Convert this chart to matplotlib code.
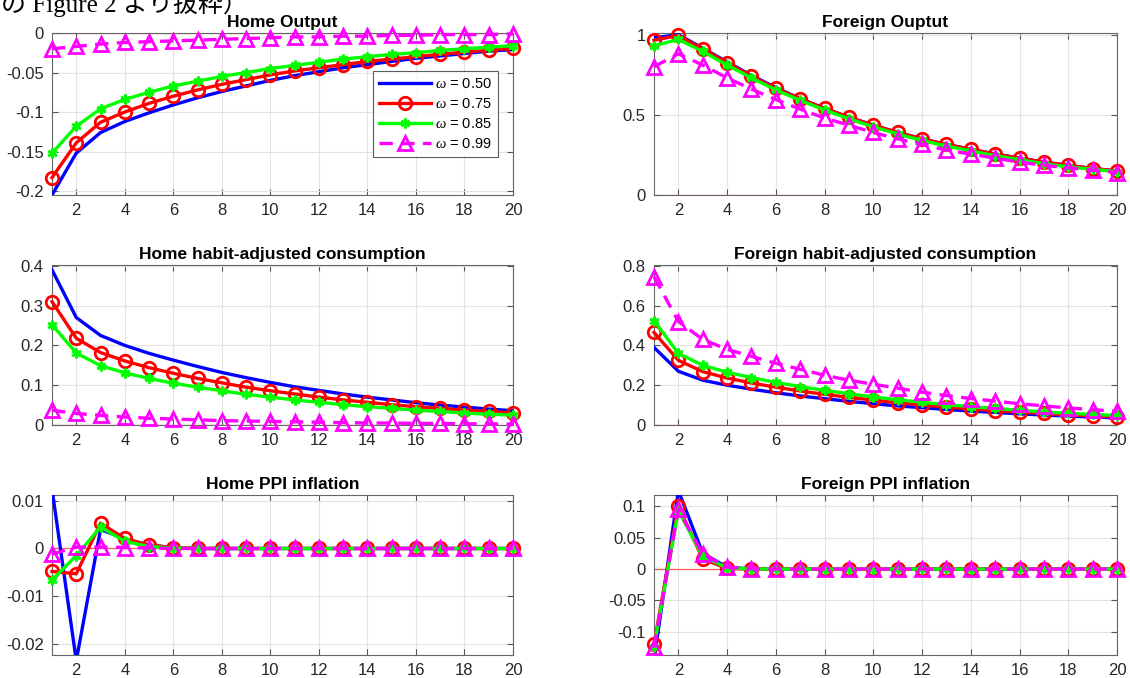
import matplotlib
matplotlib.use("Agg")
import matplotlib.pyplot as plt
import numpy as np

plt.rcParams["font.family"] = ["Liberation Sans", "DejaVu Sans"]
plt.rcParams["mathtext.fontset"] = "custom"
plt.rcParams["mathtext.it"] = "Liberation Serif:italic"

t = list(range(1, 21))
labels = [r"$\omega$ = 0.50", r"$\omega$ = 0.75", r"$\omega$ = 0.85", r"$\omega$ = 0.99"]

home_output = [
    [-0.205, -0.152, -0.126, -0.112, -0.101, -0.091, -0.082, -0.074, -0.067, -0.060,
     -0.054, -0.049, -0.044, -0.040, -0.036, -0.032, -0.029, -0.026, -0.023, -0.021],
    [-0.183, -0.139, -0.113, -0.100, -0.089, -0.080, -0.072, -0.065, -0.059, -0.053,
     -0.048, -0.044, -0.040, -0.036, -0.033, -0.030, -0.027, -0.024, -0.022, -0.019],
    [-0.152, -0.118, -0.096, -0.084, -0.075, -0.067, -0.061, -0.055, -0.050, -0.045,
     -0.041, -0.037, -0.033, -0.030, -0.027, -0.025, -0.022, -0.020, -0.018, -0.016],
    [-0.020, -0.017, -0.014, -0.012, -0.011, -0.010, -0.009, -0.008, -0.007, -0.006,
     -0.005, -0.005, -0.004, -0.004, -0.003, -0.003, -0.002, -0.002, -0.002, -0.001],
]
foreign_output = [
    [0.98, 1.0, 0.915, 0.83, 0.745, 0.67, 0.60, 0.54, 0.485, 0.435,
     0.39, 0.35, 0.315, 0.285, 0.255, 0.23, 0.205, 0.185, 0.165, 0.15],
    [0.965, 0.995, 0.91, 0.825, 0.74, 0.665, 0.60, 0.54, 0.485, 0.435,
     0.39, 0.35, 0.315, 0.285, 0.255, 0.23, 0.205, 0.185, 0.165, 0.15],
    [0.93, 0.97, 0.895, 0.81, 0.73, 0.655, 0.59, 0.53, 0.475, 0.425,
     0.38, 0.34, 0.305, 0.275, 0.245, 0.22, 0.195, 0.175, 0.16, 0.145],
    [0.80, 0.88, 0.81, 0.73, 0.66, 0.595, 0.535, 0.48, 0.435, 0.39,
     0.35, 0.315, 0.28, 0.255, 0.23, 0.205, 0.185, 0.17, 0.155, 0.14],
]
home_cons = [
    [0.39, 0.27, 0.225, 0.20, 0.18, 0.163, 0.147, 0.132, 0.119, 0.107,
     0.096, 0.087, 0.078, 0.070, 0.063, 0.056, 0.050, 0.045, 0.040, 0.036],
    [0.31, 0.218, 0.182, 0.161, 0.144, 0.130, 0.117, 0.106, 0.095, 0.086,
     0.078, 0.070, 0.063, 0.057, 0.051, 0.046, 0.042, 0.037, 0.034, 0.030],
    [0.252, 0.181, 0.149, 0.131, 0.117, 0.105, 0.095, 0.086, 0.077, 0.070,
     0.063, 0.057, 0.051, 0.046, 0.042, 0.037, 0.034, 0.030, 0.027, 0.025],
    [0.037, 0.029, 0.024, 0.020, 0.017, 0.015, 0.013, 0.011, 0.010, 0.009,
     0.008, 0.007, 0.006, 0.005, 0.005, 0.004, 0.004, 0.003, 0.003, 0.002],
]
foreign_cons = [
    [0.39, 0.27, 0.225, 0.20, 0.18, 0.162, 0.146, 0.132, 0.119, 0.107,
     0.096, 0.087, 0.078, 0.070, 0.063, 0.056, 0.050, 0.045, 0.040, 0.036],
    [0.465, 0.325, 0.268, 0.236, 0.211, 0.19, 0.171, 0.154, 0.139, 0.125,
     0.112, 0.101, 0.09, 0.081, 0.072, 0.065, 0.058, 0.051, 0.046, 0.041],
    [0.525, 0.36, 0.30, 0.265, 0.238, 0.214, 0.193, 0.174, 0.157, 0.141,
     0.127, 0.114, 0.102, 0.092, 0.083, 0.074, 0.066, 0.059, 0.053, 0.048],
    [0.745, 0.52, 0.43, 0.38, 0.345, 0.31, 0.28, 0.25, 0.225, 0.205,
     0.185, 0.165, 0.148, 0.133, 0.12, 0.107, 0.096, 0.086, 0.077, 0.069],
]
home_ppi = [
    [0.0125, -0.0235, 0.004, 0.002, 0.0007, 0.0002, 0, 0, 0, 0,
     0, 0, 0, 0, 0, 0, 0, 0, 0, 0],
    [-0.0048, -0.0053, 0.0053, 0.0021, 0.0007, 0.0002, 0, 0, 0, 0,
     0, 0, 0, 0, 0, 0, 0, 0, 0, 0],
    [-0.0066, -0.0015, 0.0045, 0.0015, 0.0004, 0.0001, 0, 0, 0, 0,
     0, 0, 0, 0, 0, 0, 0, 0, 0, 0],
    [-0.0012, 0.0003, 0.0003, 0.0002, 0.0001, 0, 0, 0, 0, 0,
     0, 0, 0, 0, 0, 0, 0, 0, 0, 0],
]
foreign_ppi = [
    [-0.145, 0.125, 0.025, 0.003, 0, 0, 0, 0, 0, 0,
     0, 0, 0, 0, 0, 0, 0, 0, 0, 0],
    [-0.120, 0.100, 0.016, 0.001, 0, 0, 0, 0, 0, 0,
     0, 0, 0, 0, 0, 0, 0, 0, 0, 0],
    [-0.124, 0.093, 0.020, 0.002, 0, 0, 0, 0, 0, 0,
     0, 0, 0, 0, 0, 0, 0, 0, 0, 0],
    [-0.125, 0.095, 0.024, 0.003, 0.0005, 0, 0, 0, 0, 0,
     0, 0, 0, 0, 0, 0, 0, 0, 0, 0],
]

panels = [
    ("Home Output", home_output, (-0.205, 0.0), [-0.2, -0.15, -0.1, -0.05, 0], ["-0.2", "-0.15", "-0.1", "-0.05", "0"]),
    ("Foreign Ouptut", foreign_output, (0.0, 1.01), [0, 0.5, 1], ["0", "0.5", "1"]),
    ("Home habit-adjusted consumption", home_cons, (0.0, 0.402), [0, 0.1, 0.2, 0.3, 0.4], ["0", "0.1", "0.2", "0.3", "0.4"]),
    ("Foreign habit-adjusted consumption", foreign_cons, (0.0, 0.804), [0, 0.2, 0.4, 0.6, 0.8], ["0", "0.2", "0.4", "0.6", "0.8"]),
    ("Home PPI inflation", home_ppi, (-0.0223, 0.0112), [-0.02, -0.01, 0, 0.01], ["-0.02", "-0.01", "0", "0.01"]),
    ("Foreign PPI inflation", foreign_ppi, (-0.137, 0.118), [-0.1, -0.05, 0, 0.05, 0.1], ["-0.1", "-0.05", "0", "0.05", "0.1"]),
]

W, H = 1130, 678
fig = plt.figure(figsize=(W / 100, H / 100), dpi=100)
fig.patch.set_facecolor("white")

cols = [(52, 513), (654, 1117)]
rows = [(33, 195), (265, 425), (495, 655)]

styles = [
    dict(color=(0, 0, 1), lw=2.4, ls="-", marker=None),
    dict(color=(1, 0, 0), lw=2.4, ls="-", marker="o", ms=9, mfc="none", mew=2),
    dict(color=(0, 1, 0), lw=2.4, ls="-", marker=(6, 2, 0), ms=7, mew=2),
    dict(color=(1, 0, 1), lw=2.4, ls=(0, (4, 2.5)), marker="^", ms=10, mfc="none", mew=2),
]

txt_col = "#262626"
for i, (title, series, ylim, yticks, yticklabels) in enumerate(panels):
    r, c = divmod(i, 2)
    x0, x1 = cols[c]
    y0, y1 = rows[r]
    ax = fig.add_axes([x0 / W, 1 - y1 / H, (x1 - x0) / W, (y1 - y0) / H])
    ax.axhline(0, color=(1, 0.35, 0.35), lw=0.9, zorder=1)
    for k, (vals, st) in enumerate(zip(series, styles)):
        clip = st["marker"] is None
        ax.plot(t, vals, label=labels[k], clip_on=clip, zorder=3 + k, **st)
    ax.set_xlim(1, 20)
    ax.set_ylim(*ylim)
    ax.set_xticks(range(2, 21, 2))
    ax.set_yticks(yticks)
    ax.set_yticklabels(yticklabels)
    ax.grid(True, color="#e3e3e3", lw=0.8)
    ax.set_axisbelow(True)
    ax.tick_params(direction="in", length=4, width=0.8, colors="#555555",
                   labelcolor=txt_col, labelsize=12, top=True, right=True, pad=6)
    for s in ax.spines.values():
        s.set_color("#666666")
        s.set_linewidth(0.8)
    ax.set_title(title, fontsize=12.5, fontweight="bold", color="black", pad=4)
    if i == 0:
        leg = ax.legend(loc="upper right", bbox_to_anchor=(0.968, 0.765), borderaxespad=0,
                        fontsize=10.5, handlelength=3.6, labelspacing=0.42, frameon=True,
                        fancybox=False, edgecolor="#333333", borderpad=0.4, handletextpad=0.3)
        leg.get_frame().set_linewidth(0.8)
        leg.set_zorder(20)

fig.text(1 / W, 1 - 12 / H, "の Figure 2 より抜粋）", fontsize=18,
         family=["Liberation Serif", "Noto Sans CJK JP"], va="baseline", ha="left", color="black")

fig.savefig("out.png", dpi=100, facecolor="white")
